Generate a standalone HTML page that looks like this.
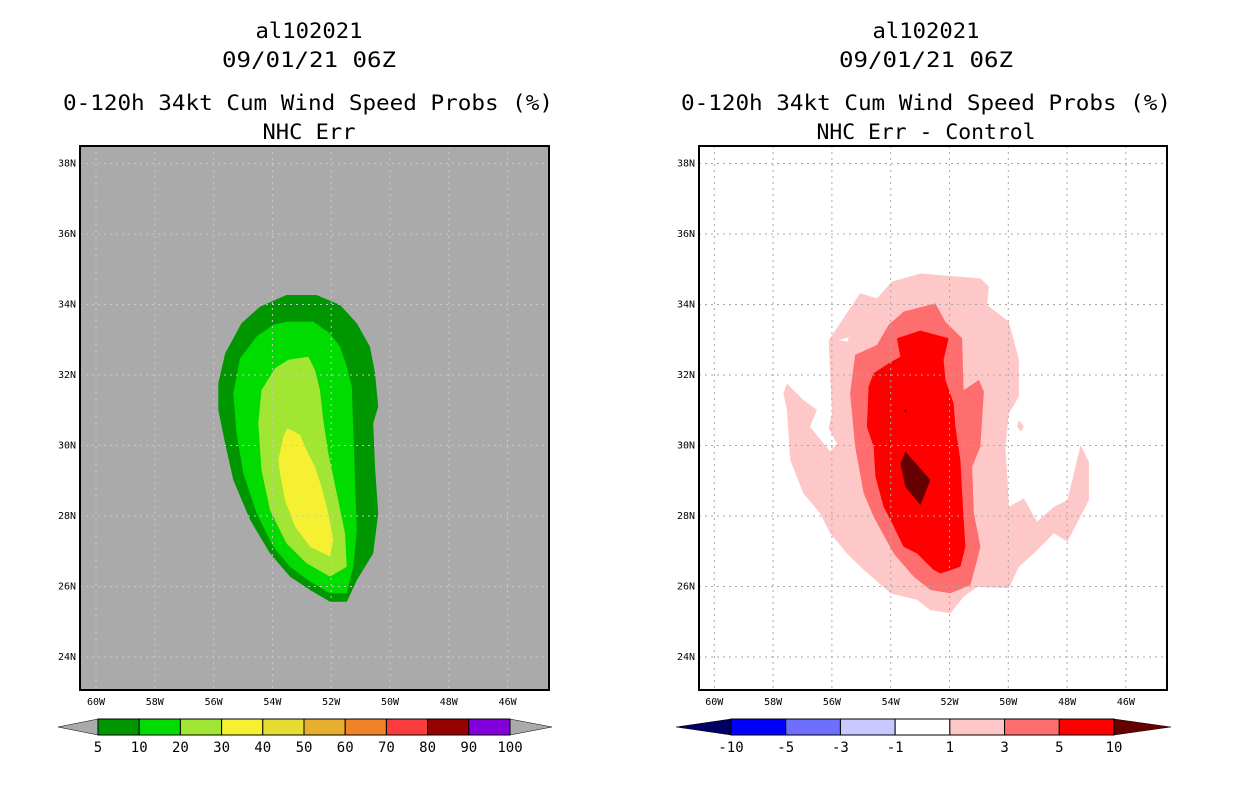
<!DOCTYPE html>
<html><head><meta charset="utf-8"><style>
html,body{margin:0;padding:0;background:#fff;}
svg{display:block;font-family:"DejaVu Sans Mono","Liberation Mono",monospace;}
</style></head><body>
<svg id="chart" width="1236" height="800" viewBox="0 0 1236 800">
<g font-size="21" text-anchor="middle" fill="#000">
<text x="309" y="38" textLength="107" lengthAdjust="spacingAndGlyphs">al102021</text>
<text x="309" y="67" textLength="174" lengthAdjust="spacingAndGlyphs">09/01/21 06Z</text>
<text x="308" y="110" textLength="490" lengthAdjust="spacingAndGlyphs">0-120h 34kt Cum Wind Speed Probs (%)</text>
<text x="309" y="139" textLength="93" lengthAdjust="spacingAndGlyphs">NHC Err</text>
</g>
<g font-size="21" text-anchor="middle" fill="#000">
<text x="926" y="38" textLength="107" lengthAdjust="spacingAndGlyphs">al102021</text>
<text x="926" y="67" textLength="174" lengthAdjust="spacingAndGlyphs">09/01/21 06Z</text>
<text x="926" y="110" textLength="490" lengthAdjust="spacingAndGlyphs">0-120h 34kt Cum Wind Speed Probs (%)</text>
<text x="926" y="139" textLength="219" lengthAdjust="spacingAndGlyphs">NHC Err - Control</text>
</g>
<g id="left"></g>
<g id="right"></g>
<g id="cbl"></g>
<g id="cbr"></g>
</svg>
<script>
// ---- data ----
const lonTicks = [-60,-58,-56,-54,-52,-50,-48,-46];
const latTicks = [24,26,28,30,32,34,36,38];
const lonLabels = ["60W","58W","56W","54W","52W","50W","48W","46W"];
const latLabels = ["24N","26N","28N","30N","32N","34N","36N","38N"];

const leftLevels = [5,10,20,30];
const leftColors = ["#009600","#00dc00","#a0e632","#f5f032"];
const left5 = [[-53.52,34.27],[-52.50,34.27],[-51.70,33.99],[-51.13,33.47],[-50.68,32.80],[-50.51,32.05],[-50.40,31.10],[-50.57,30.63],[-50.51,29.40],[-50.40,28.08],[-50.57,26.94],[-51.13,26.18],[-51.47,25.57],[-52.04,25.57],[-52.72,25.90],[-53.40,26.28],[-54.08,26.94],[-54.76,27.89],[-55.33,29.02],[-55.61,30.06],[-55.84,31.01],[-55.84,31.76],[-55.61,32.61],[-55.05,33.47],[-54.42,33.94]];
const left10 = [[-53.52,33.51],[-52.61,33.51],[-52.04,33.18],[-51.70,32.80],[-51.47,32.24],[-51.30,31.67],[-51.25,30.44],[-51.19,29.02],[-51.13,27.60],[-51.25,26.56],[-51.47,25.81],[-52.04,25.81],[-52.72,26.14],[-53.40,26.56],[-53.97,27.13],[-54.54,28.08],[-54.99,29.21],[-55.22,30.35],[-55.33,31.48],[-55.10,32.47],[-54.54,33.09],[-53.97,33.42]];
const left20 = [[-53.46,32.43],[-52.78,32.52],[-52.55,32.14],[-52.38,31.57],[-52.27,30.72],[-52.10,29.78],[-51.81,28.64],[-51.53,27.51],[-51.47,26.56],[-52.04,26.28],[-52.84,26.66],[-53.52,27.22],[-54.08,28.17],[-54.37,29.30],[-54.48,30.63],[-54.37,31.57],[-53.91,32.19]];
const left30 = [[-53.49,30.49],[-53.06,30.30],[-52.84,29.87],[-52.55,29.40],[-52.33,28.83],[-52.10,28.08],[-51.93,27.32],[-52.04,26.85],[-52.72,27.13],[-53.23,27.70],[-53.57,28.45],[-53.74,29.21],[-53.80,29.59],[-53.63,30.25]];

const rightColors = ["#ffc8c8","#ff6e6e","#ff0000","#640000"];
const right1 = [[-57.65,31.48],[-57.53,31.76],[-56.97,31.29],[-56.51,31.01],[-56.74,30.53],[-56.06,29.83],[-55.83,30.06],[-56.11,30.49],[-56.00,30.91],[-56.11,32.99],[-55.04,34.32],[-54.47,34.18],[-53.96,34.65],[-52.99,34.88],[-50.95,34.74],[-50.66,34.51],[-50.72,33.99],[-49.98,33.51],[-49.64,32.43],[-49.64,31.39],[-49.98,30.91],[-50.10,29.97],[-50.04,29.21],[-49.98,28.26],[-49.47,28.50],[-49.02,27.84],[-48.45,28.26],[-47.99,28.45],[-47.54,30.01],[-47.26,29.54],[-47.26,28.45],[-47.99,27.27],[-48.45,27.51],[-49.13,26.94],[-49.64,26.56],[-49.98,25.95],[-51.06,25.99],[-51.52,25.71],[-51.97,25.24],[-52.65,25.33],[-53.11,25.62],[-54.01,25.81],[-54.92,26.47],[-55.49,26.94],[-56.06,27.51],[-56.40,28.08],[-56.97,28.64],[-57.42,29.59],[-57.53,31.01]];
const right1b = [[-49.64,30.72],[-49.47,30.53],[-49.58,30.39],[-49.70,30.53]];
const right1hole = [[-55.77,32.99],[-55.43,33.07],[-55.46,32.95]];
const right3 = [[-55.21,32.57],[-54.47,32.85],[-54.07,33.42],[-53.56,33.80],[-52.48,34.03],[-52.14,33.51],[-51.57,33.04],[-51.52,31.57],[-51.00,31.86],[-50.83,31.53],[-50.95,29.97],[-51.23,29.40],[-51.17,28.08],[-50.95,27.13],[-51.06,26.75],[-51.29,26.04],[-51.97,25.81],[-52.65,25.90],[-53.22,26.28],[-53.90,26.94],[-54.58,27.98],[-54.92,28.64],[-55.21,29.97],[-55.38,31.48]];
const right5 = [[-53.79,33.04],[-52.99,33.26],[-52.03,33.04],[-52.20,32.43],[-52.14,31.86],[-51.86,31.20],[-51.80,30.53],[-51.63,29.59],[-51.57,28.64],[-51.46,27.13],[-51.63,26.56],[-52.31,26.37],[-52.54,26.47],[-53.11,26.94],[-53.56,27.13],[-54.01,27.89],[-54.24,28.26],[-54.52,29.12],[-54.58,29.97],[-54.81,30.53],[-54.75,31.67],[-54.58,32.05],[-54.07,32.33],[-53.67,32.52]];
const right10 = [[-53.50,29.83],[-52.65,29.02],[-52.99,28.31],[-53.50,28.83],[-53.67,29.49]];
const right10dot = [[-53.55,31.01],[-53.45,31.01],[-53.50,30.93]];

const leftBarLabels = ["5","10","20","30","40","50","60","70","80","90","100"];
const leftBarColors = ["#009600","#00dc00","#a0e632","#f5f032","#e6dc32","#e6af2d","#f08228","#fa3c3c","#960000","#8200dc"];
const rightBarLabels = ["-10","-5","-3","-1","1","3","5","10"];
const rightBarColors = ["#0000ff","#6e6eff","#c8c8ff","#ffffff","#ffc8c8","#ff6e6e","#ff0000"];

// ---- drawing ----
const NS="http://www.w3.org/2000/svg";
function mk(tag,attrs,parent){const e=document.createElementNS(NS,tag);for(const k in attrs)e.setAttribute(k,attrs[k]);parent.appendChild(e);return e;}
function makeAxes(x60){
  return {x:lon=>x60+(lon+60)*29.4, y:lat=>445.5-(lat-30)*35.25};
}
function poly(g,ax,pts,fill,name){
  const p=mk('polygon',{points:pts.map(q=>ax.x(q[0]).toFixed(1)+','+ax.y(q[1]).toFixed(1)).join(' '),fill:fill},g);
  
  
}
function panel(g,x0,x1,x60,bg,gridCol,fills){
  const ax=makeAxes(x60);
  const r=mk('rect',{x:x0,y:146,width:x1-x0,height:544,fill:bg},g);
  
  
  fills.forEach(f=>poly(g,ax,f[0],f[1],f[2]));
  lonTicks.forEach((lon,i)=>{
    const X=ax.x(lon);
    const l=mk('line',{x1:X,x2:X,y1:146,y2:690,stroke:gridCol,'stroke-width':1,'stroke-dasharray':'2,4'},g);
    
    
    const t=mk('text',{x:X,y:705,'font-size':10,'text-anchor':'middle',fill:'#000'},g);
    t.textContent=lonLabels[i];
    
    
  });
  latTicks.forEach((lat,i)=>{
    const Y=ax.y(lat);
    const l=mk('line',{x1:x0,x2:x1,y1:Y,y2:Y,stroke:gridCol,'stroke-width':1,'stroke-dasharray':'2,4'},g);
    
    
    const t=mk('text',{x:x0-4,y:Y+3,'font-size':10,'text-anchor':'end',fill:'#000'},g);
    t.textContent=latLabels[i];
    
    
  });
  const b=mk('rect',{x:x0,y:146,width:x1-x0,height:544,fill:'none',stroke:'#000','stroke-width':2},g);
  
  
}
panel(document.getElementById('left'),80,549,96,'#aaaaaa','#c8c8c8',[
  [left5,leftColors[0],'contour-5'],[left10,leftColors[1],'contour-10'],[left20,leftColors[2],'contour-20'],[left30,leftColors[3],'contour-30']]);
panel(document.getElementById('right'),699,1167,714.3,'#ffffff','#a8a8a8',[
  [right1,rightColors[0],'contour-1'],[right1b,rightColors[0],'contour-1-island'],[right1hole,'#ffffff','contour-1-hole'],
  [right3,rightColors[1],'contour-3'],[right5,rightColors[2],'contour-5'],[right10,rightColors[3],'contour-10'],[right10dot,rightColors[3],'contour-10-dot']]);

function colorbar(g,x0,x1,tipL,tipR,cols,labels,leftTip,rightTip){
  const n=cols.length, w=(x1-x0)/n, y0=719, y1=735, ym=727;
  const tl=mk('polygon',{points:`${tipL},${ym} ${x0},${y0} ${x0},${y1}`,fill:leftTip,stroke:'#000','stroke-width':0.5},g);
  
  
  const tr=mk('polygon',{points:`${tipR},${ym} ${x1},${y0} ${x1},${y1}`,fill:rightTip,stroke:'#000','stroke-width':0.5},g);
  
  
  cols.forEach((c,i)=>{
    const r=mk('rect',{x:x0+i*w,y:y0,width:w,height:y1-y0,fill:c,stroke:'#000','stroke-width':1},g);
    
    
  });
  labels.forEach((s,i)=>{
    const t=mk('text',{x:x0+i*w,y:752,'font-size':14,'text-anchor':'middle',fill:'#000'},g);
    t.textContent=s;
    
    
  });
}
colorbar(document.getElementById('cbl'),98,510,58,552,leftBarColors,leftBarLabels,'#aaaaaa','#aaaaaa');
colorbar(document.getElementById('cbr'),731,1114,676,1171,rightBarColors,rightBarLabels,'#000064','#640000');
</script>
</body></html>
